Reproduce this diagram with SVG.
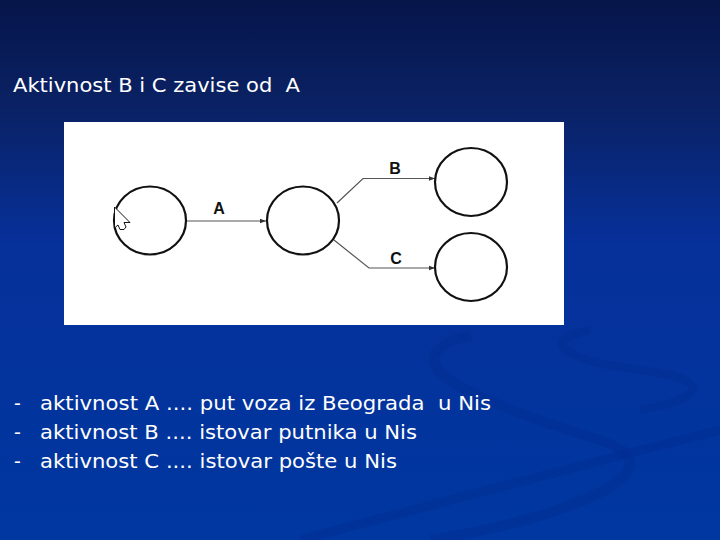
<svg xmlns="http://www.w3.org/2000/svg" width="720" height="540" viewBox="0 0 720 540">
<defs>
<linearGradient id="bg" x1="0" y1="0" x2="0" y2="1">
<stop offset="0" stop-color="#06154a"/>
<stop offset="0.2" stop-color="#0a2265"/>
<stop offset="0.45" stop-color="#06309a"/>
<stop offset="1" stop-color="#0037a0"/>
</linearGradient>
<marker id="ah" viewBox="0 0 6 6" refX="6" refY="3" markerWidth="6" markerHeight="6" markerUnits="userSpaceOnUse" orient="auto">
<path d="M0,0.8 L6,3 L0,5.2 Z" fill="#333"/>
</marker>
<style>
.node ellipse{fill:none;stroke:#111;stroke-width:2.2}
.conn path{fill:none;stroke:#555;stroke-width:1.2;marker-end:url(#ah)}
.lbl{font-family:"Liberation Sans",Arial,sans-serif;font-weight:bold;font-size:16px;fill:#111;text-anchor:middle}
.txt{font-family:"DejaVu Sans",Verdana,sans-serif;font-size:19px;fill:#fff}
.sw{fill:none;stroke:#002c8c;stroke-opacity:0.35}
</style>
</defs>
<rect width="720" height="540" fill="url(#bg)"/>
<g id="swooshes">
<path class="sw" stroke-width="10" d="M470,335 C380,360 470,400 600,440 C690,470 560,520 430,540"/>
<path class="sw" stroke-width="8" d="M590,330 C540,340 560,360 640,370 C720,380 700,400 640,410"/>
<path class="sw" stroke-width="9" d="M300,540 C450,500 600,460 720,430"/>
</g>
<text class="txt" x="13" y="92" textLength="287" lengthAdjust="spacingAndGlyphs" xml:space="preserve">Aktivnost B i C zavise od  A</text>
<rect id="panel" x="64" y="122" width="500" height="203" fill="#fff"/>
<g id="connectors" class="conn">
<path d="M186,221 L266,221"/>
<path d="M337,203 L363,178.5 L435,178.5"/>
<path d="M334,240 L369,268 L435,268"/>
</g>
<g id="n1" class="node"><ellipse cx="150" cy="220.5" rx="36" ry="34"/></g>
<g id="n2" class="node"><ellipse cx="303" cy="220.5" rx="36" ry="34"/></g>
<g id="n3" class="node"><ellipse cx="471" cy="182" rx="36" ry="34"/></g>
<g id="n4" class="node"><ellipse cx="471" cy="267" rx="36" ry="34"/></g>
<g id="labels">
<text class="lbl" x="219" y="214">A</text>
<text class="lbl" x="395" y="174">B</text>
<text class="lbl" x="396" y="264">C</text>
</g>
<g id="cursor">
<path d="M114.5,207 L114.5,228 L118,225 L120,229.5 L124,229.5 L126,227 L124,222.5 L130,222.5 Z" fill="#fff" stroke="#111" stroke-width="1"/>
</g>
<g id="list" class="txt">
<text x="14" y="410" xml:space="preserve">-</text>
<text x="40" y="410" textLength="451" lengthAdjust="spacingAndGlyphs" xml:space="preserve">aktivnost A .... put voza iz Beograda  u Nis</text>
<text x="14" y="439" xml:space="preserve">-</text>
<text x="40" y="439" textLength="377" lengthAdjust="spacingAndGlyphs" xml:space="preserve">aktivnost B .... istovar putnika u Nis</text>
<text x="14" y="468" xml:space="preserve">-</text>
<text x="40" y="468" textLength="357" lengthAdjust="spacingAndGlyphs" xml:space="preserve">aktivnost C .... istovar pošte u Nis</text>
</g>
</svg>
